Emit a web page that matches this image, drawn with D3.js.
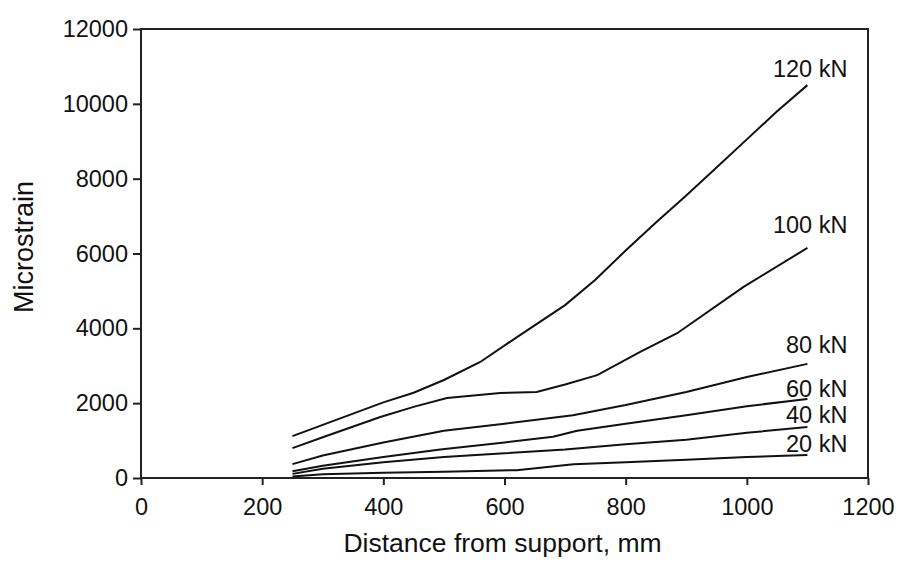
<!DOCTYPE html>
<html><head><meta charset="utf-8">
<script src="https://cdn.jsdelivr.net/npm/d3@7"></script>
<style>body{margin:0;background:#fff}svg{display:block}text{font-family:"Liberation Sans",Arial,sans-serif;fill:#111}</style>
</head><body><svg id="c" width="901" height="566"></svg>
<script>
const xTicks = [0,200,400,600,800,1000,1200];
const yTicks = [0,2000,4000,6000,8000,10000,12000];
const seriesNames = ["120 kN","100 kN","80 kN","60 kN","40 kN","20 kN"];
const x120 = [250,300,400,450,500,560,620,700,750,800,850,900,950,1000,1050,1100];
const y120 = [1120,1420,2020,2280,2620,3100,3760,4620,5300,6080,6830,7550,8300,9050,9800,10500];
const x100 = [250,300,395,450,505,593,653,700,753,824,885,994,1100];
const y100 = [800,1090,1630,1900,2140,2270,2300,2500,2750,3370,3870,5100,6150];
const x80 = [250,300,400,500,600,713,800,900,1000,1100];
const y80 = [370,600,950,1260,1450,1680,1950,2300,2700,3050];
const x60 = [250,300,400,494,600,680,720,800,900,1000,1100];
const y60 = [180,330,560,760,950,1100,1260,1450,1680,1920,2110];
const x40 = [250,300,400,500,600,700,800,900,1000,1100];
const y40 = [110,250,420,560,660,760,900,1020,1210,1360];
const x20 = [250,300,400,500,620,714,800,900,1000,1100];
const y20 = [40,100,140,170,210,370,420,490,560,615];
const labelDy = [-8,-15,-11,-2,-4,-3];

const series = [[x120,y120],[x100,y100],[x80,y80],[x60,y60],[x40,y40],[x20,y20]];
const svg = d3.select("#c");
const L=141,T=29,R=868,B=478;
const x = d3.scaleLinear().domain([0,1200]).range([L,R]);
const y = d3.scaleLinear().domain([0,12000]).range([B,T]);

const gx = svg.append("g").attr("transform",`translate(0,${B})`)
  .call(d3.axisBottom(x).tickValues(xTicks).tickSize(7).tickPadding(13).tickFormat(d3.format("d")));
const gy = svg.append("g").attr("transform",`translate(${L},0)`)
  .call(d3.axisLeft(y).tickValues(yTicks).tickSize(8).tickPadding(5).tickFormat(d3.format("d")));
[gx,gy].forEach(g=>{
  g.select(".domain").remove();
  g.selectAll("line").attr("stroke","#222").attr("stroke-width",2);
  g.selectAll("text").style("font-size","23.5px").attr("fill","#111");
});
svg.append("rect").attr("x",L).attr("y",T).attr("width",R-L).attr("height",B-T)
  .attr("fill","none").attr("stroke","#222").attr("stroke-width",2);

const line = d3.line().x(d=>x(d[0])).y(d=>y(d[1]));
series.forEach(([xs,ys],i)=>{
  const pts = xs.map((v,j)=>[v,ys[j]]);
  svg.append("path").attr("d",line(pts)).attr("fill","none")
    .attr("stroke","#111").attr("stroke-width",2);
  const last = pts[pts.length-1];
  svg.append("text").attr("x",x(1166)).attr("y",y(last[1])+labelDy[i])
    .attr("text-anchor","end").style("font-size","23.5px").text(seriesNames[i]);
});

svg.append("text").attr("x",(L+R)/2-2).attr("y",552).attr("text-anchor","middle")
  .style("font-size","26.5px").text("Distance from support, mm");
svg.append("text").attr("transform",`translate(33,247) rotate(-90)`)
  .attr("text-anchor","middle").style("font-size","27px").text("Microstrain");
</script></body></html>
